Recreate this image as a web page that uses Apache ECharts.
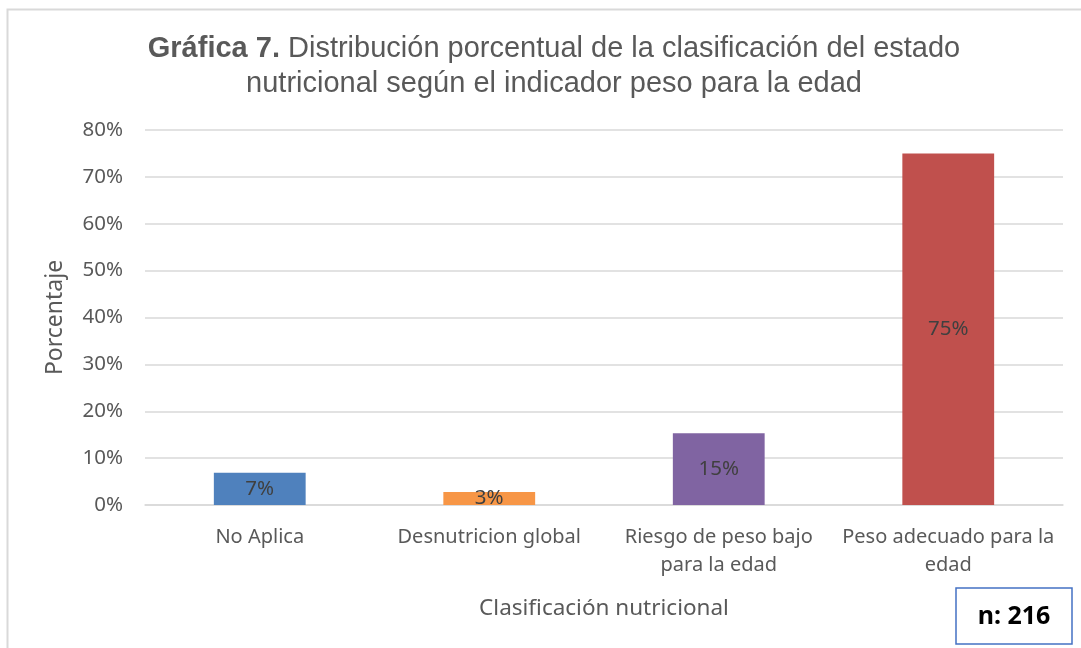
<!DOCTYPE html>
<html>
<head>
<meta charset="utf-8">
<script src="https://cdn.jsdelivr.net/npm/echarts@6/dist/echarts.min.js"></script>
<style>
  html, body { margin: 0; padding: 0; background: #fff; }
  #chart { width: 1081px; height: 648px; }
</style>
</head>
<body>
<div id="chart"></div>
<script>
// categorías (con salto de línea como en el original)
const categories = [
  "No Aplica",
  "Desnutricion global",
  "Riesgo de peso bajo\npara la edad",
  "Peso adecuado para la\nedad",
];
const values = [6.9, 2.8, 15.3, 75.0];
const barColors = ["#4F81BD", "#F79646", "#8064A2", "#C0504D"];
const yTicks = [0, 10, 20, 30, 40, 50, 60, 70, 80];

const font = "'Noto Sans', 'Open Sans', sans-serif";

const chart = echarts.init(document.getElementById("chart"));

chart.setOption({
  animation: false,
  title: {
    text: "{b|Gráfica 7.} Distribución porcentual de la clasificación del estado\nnutricional según el indicador peso para la edad",
    left: 549,
    top: 26,
    textAlign: "center",
    textStyle: {
      fontFamily: "'Liberation Sans', Arial, sans-serif",
      fontSize: 29,
      fontWeight: "normal",
      color: "#595959",
      lineHeight: 35,
      rich: {
        b: {
          fontFamily: "'Liberation Sans', Arial, sans-serif",
          fontSize: 29,
          fontWeight: "bold",
          color: "#595959",
          lineHeight: 35,
        },
      },
    },
  },
  grid: {
    left: 145,
    right: 18,
    top: 130,
    bottom: 143,
  },
  xAxis: {
    type: "category",
    data: categories,
    name: "Clasificación nutricional",
    nameLocation: "middle",
    nameGap: 92,
    nameTextStyle: { fontFamily: font, fontSize: 22.5, color: "#595959" },
    axisLine: { lineStyle: { color: "#D9D9D9", width: 1.5 } },
    axisTick: { show: false },
    axisLabel: {
      fontFamily: font,
      fontSize: 20,
      color: "#595959",
      lineHeight: 28,
      margin: 18,
      interval: 0,
    },
  },
  yAxis: {
    type: "value",
    min: yTicks[0],
    max: yTicks[yTicks.length - 1],
    interval: 10,
    name: "Porcentaje",
    nameLocation: "middle",
    nameGap: 78,
    nameRotate: 90,
    nameTextStyle: { fontFamily: font, fontSize: 23, color: "#595959" },
    axisLine: { show: false },
    axisTick: { show: false },
    axisLabel: {
      fontFamily: font,
      fontSize: 20.5,
      color: "#595959",
      margin: 22,
      formatter: (v) => v + "%",
    },
    splitLine: { lineStyle: { color: "#D9D9D9", width: 1.5 } },
  },
  series: [
    {
      type: "bar",
      barWidth: "40%",
      data: values.map((v, i) => ({ value: v, itemStyle: { color: barColors[i] } })),
      label: {
        show: true,
        position: "inside",
        fontFamily: font,
        fontSize: 20.5,
        color: "#404040",
        formatter: (p) => Math.round(p.value) + "%",
      },
    },
  ],
  graphic: [
    {
      type: "rect",
      shape: { x: 7.5, y: 9.5, width: 1100, height: 700 },
      style: { fill: "none", stroke: "#D9D9D9", lineWidth: 2 },
      silent: true,
    },
    {
      type: "rect",
      shape: { x: 956, y: 588, width: 116, height: 56 },
      style: { fill: "#fff", stroke: "#4472C4", lineWidth: 1.5 },
      silent: true,
    },
    {
      type: "text",
      x: 1014,
      y: 617,
      style: {
        text: "n: 216",
        fontFamily: font,
        fontSize: 25,
        fontWeight: "bold",
        fill: "#000",
        align: "center",
        verticalAlign: "middle",
      },
      silent: true,
    },
  ],
});
</script>
</body>
</html>
